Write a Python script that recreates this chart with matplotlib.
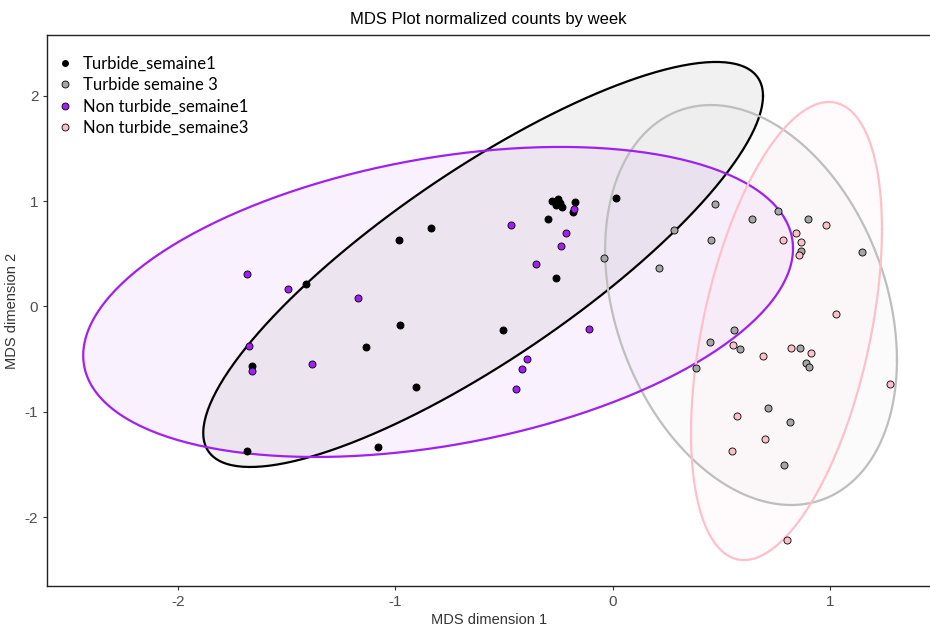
import numpy as np
import matplotlib.pyplot as plt
from matplotlib.lines import Line2D

# MDS coordinates per group
turb1_x = [-1.681, -1.079, -1.658, -1.410, -0.983, -0.835, -0.978, -1.134, -0.904, -0.504,
           -0.261, -0.297, -0.279, -0.251, -0.261, -0.233, -0.242, -0.173, -0.183, 0.015]
turb1_y = [-1.372, -1.334, -0.565, 0.214, 0.632, 0.745, -0.176, -0.385, -0.764, -0.223,
           0.271, 0.831, 1.002, 1.021, 0.964, 0.945, 0.983, 0.992, 0.897, 1.030]

turb3_x = [-0.040, 0.213, 0.282, 0.452, 0.470, 0.640, 0.760, 0.898, 1.146, 0.866,
           0.558, 0.447, 0.585, 0.383, 0.861, 0.889, 0.903, 0.714, 0.815, 0.788]
turb3_y = [0.461, 0.366, 0.726, 0.632, 0.973, 0.831, 0.907, 0.831, 0.518, 0.527,
           -0.223, -0.337, -0.404, -0.584, -0.394, -0.537, -0.575, -0.964, -1.097, -1.505]

nont1_x = [-1.681, -1.493, -1.171, -1.672, -1.658, -1.383, -0.468, -0.215, -0.238, -0.353,
           -0.178, -0.109, -0.394, -0.417, -0.445]
nont1_y = [0.309, 0.166, 0.081, -0.375, -0.613, -0.546, 0.774, 0.698, 0.575, 0.404,
           0.926, -0.214, -0.499, -0.594, -0.783]

nont3_x = [0.981, 0.843, 0.783, 0.866, 0.857, 1.027, 0.553, 0.691, 0.820, 0.912,
           1.275, 0.571, 0.700, 0.549, 0.801]
nont3_y = [0.774, 0.698, 0.632, 0.613, 0.489, -0.071, -0.366, -0.470, -0.394, -0.442,
           -0.736, -1.040, -1.258, -1.372, -2.217]

labels = ['Turbide_semaine1', 'Turbide semaine 3', 'Non turbide_semaine1', 'Non turbide_semaine3']

# ellipse per group: centre x, centre y, half-width x, half-height y, correlation
ell_cx = [-0.596, 0.636, -0.803, 0.799]
ell_cy = [0.399, 0.014, 0.043, -0.233]
ell_sx = [1.287, 0.671, 1.632, 0.439]
ell_sy = [1.923, 1.899, 1.472, 2.175]
ell_rho = [0.832, -0.275, 0.345, 0.445]

line_colors = ['black', '#bebebe', '#a020f0', '#ffc0cb']
point_colors = ['black', '#a6a6a6', '#a020f0', '#ffc0cb']

xs = [turb1_x, turb3_x, nont1_x, nont3_x]
ys = [turb1_y, turb3_y, nont1_y, nont3_y]

plt.rcParams['font.family'] = ['Liberation Sans', 'DejaVu Sans']
plt.rcParams['axes.unicode_minus'] = False

fig = plt.figure(figsize=(9.3, 6.27), dpi=100)
ax = fig.add_axes([0.0509, 0.0654, 0.9491, 0.8788])

t = np.linspace(0, 2 * np.pi, 300)
for i in range(4):
    ex = ell_cx[i] + ell_sx[i] * np.cos(t)
    ey = ell_cy[i] + ell_sy[i] * (ell_rho[i] * np.cos(t) + np.sqrt(1 - ell_rho[i] ** 2) * np.sin(t))
    ax.fill(ex, ey, color=line_colors[i], alpha=0.055, lw=0, zorder=1)
    ax.plot(ex, ey, color=line_colors[i], lw=1.6, zorder=2)

for i in range(4):
    ax.scatter(xs[i], ys[i], s=26, c=point_colors[i], edgecolors='black', linewidths=0.6, zorder=3)

handles = [Line2D([], [], ls='', marker='o', markersize=5, markerfacecolor=point_colors[i],
                  markeredgecolor='black' if i else 'none', markeredgewidth=0.6)
           for i in range(4)]
ax.legend(handles, labels, loc='upper left', bbox_to_anchor=(0.0107, 0.963),
          frameon=False, handletextpad=0.58, labelspacing=0.33, borderaxespad=0,
          borderpad=0, handlelength=1.0,
          prop={'family': ['Lato', 'DejaVu Sans'], 'size': 12})

ax.set_xlim(-2.600, 1.459)
ax.set_ylim(-2.654, 2.578)
ax.set_xticks([-2, -1, 0, 1])
ax.set_yticks([-2, -1, 0, 1, 2])
ax.tick_params(labelsize=11, colors='#333333', labelcolor='#4d4d4d', length=3, width=0.8)
ax.spines['right'].set_visible(False)
for side in ['left', 'bottom', 'top']:
    ax.spines[side].set_color('#222222')
    ax.spines[side].set_linewidth(1.0)
ax.xaxis.set_ticks_position('bottom')

ax.set_title('MDS Plot normalized counts by week', fontsize=12, pad=8)
ax.set_xlabel('MDS dimension 1', fontsize=10.5, color='#333333', labelpad=3)
ax.set_ylabel('MDS dimension 2', fontsize=10.5, color='#333333', labelpad=4)

fig.savefig('out.png', dpi=100)
